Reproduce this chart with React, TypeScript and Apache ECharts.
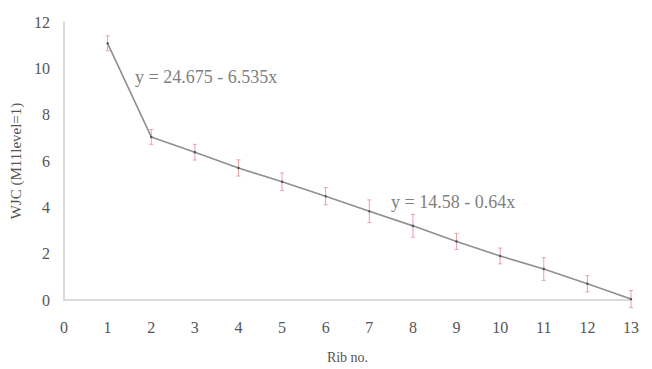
import React, { useEffect, useRef } from "react";
import * as echarts from "echarts";

const ribs = [1, 2, 3, 4, 5, 6, 7, 8, 9, 10, 11, 12, 13];
const wjc = [11.08, 7.04, 6.38, 5.7, 5.1, 4.48, 3.83, 3.2, 2.53, 1.9, 1.34, 0.7, 0.04];
const errs = [0.32, 0.32, 0.34, 0.35, 0.38, 0.37, 0.49, 0.49, 0.35, 0.34, 0.49, 0.35, 0.37];
const eq1 = "y = 24.675 - 6.535x";
const eq2 = "y = 14.58 - 0.64x";

const FONT = "'Liberation Serif', 'DejaVu Serif', serif";

export default function App() {
  const ref = useRef<HTMLDivElement>(null);
  useEffect(() => {
    const chart = echarts.init(ref.current!, null, { renderer: "svg" });
    const lineData = ribs.map((r, i) => [r, wjc[i]]);
    const errData = ribs.map((r, i) => [r, wjc[i] - errs[i], wjc[i] + errs[i]]);
    chart.setOption({
      animation: false,
      backgroundColor: "#ffffff",
      grid: { left: 64, right: 21, top: 22, bottom: 64, containLabel: false },
      xAxis: {
        type: "value",
        min: 0,
        max: 13,
        interval: 1,
        name: "Rib no.",
        nameLocation: "middle",
        nameGap: 50,
        nameTextStyle: { fontFamily: FONT, fontSize: 14, color: "#555" },
        axisLine: { show: true, lineStyle: { color: "#cfcfcf", width: 1.5 } },
        axisTick: { show: false },
        splitLine: { show: false },
        axisLabel: { fontFamily: FONT, fontSize: 16, color: "#555", margin: 19 },
      },
      yAxis: {
        type: "value",
        min: 0,
        max: 12,
        interval: 2,
        name: "WJC (M11level=1)",
        nameLocation: "middle",
        nameGap: 38,
        nameTextStyle: { fontFamily: FONT, fontSize: 15, color: "#555" },
        axisLine: { show: true, lineStyle: { color: "#cfcfcf", width: 1.5 } },
        axisTick: { show: false },
        splitLine: { show: false },
        axisLabel: { fontFamily: FONT, fontSize: 16, color: "#555", margin: 14 },
      },
      series: [
        {
          type: "custom",
          data: errData,
          z: 1,
          renderItem: (params: any, api: any) => {
            const x = api.value(0);
            const lo = api.coord([x, api.value(1)]);
            const hi = api.coord([x, api.value(2)]);
            const cap = 2;
            const style = { stroke: "#e8a0a8", lineWidth: 1 };
            return {
              type: "group",
              children: [
                { type: "line", shape: { x1: lo[0], y1: lo[1], x2: hi[0], y2: hi[1] }, style },
                { type: "line", shape: { x1: lo[0] - cap, y1: lo[1], x2: lo[0] + cap, y2: lo[1] }, style },
                { type: "line", shape: { x1: hi[0] - cap, y1: hi[1], x2: hi[0] + cap, y2: hi[1] }, style },
              ],
            };
          },
        },
        {
          type: "line",
          data: lineData,
          z: 2,
          symbol: "circle",
          symbolSize: 2.5,
          itemStyle: { color: "#555" },
          lineStyle: { color: "#8f8f8f", width: 1.6 },
        },
      ],
      graphic: [
        {
          type: "text",
          left: 135,
          top: 68,
          style: { text: eq1, font: `18px ${FONT}`, fill: "#7f7f7f" },
        },
        {
          type: "text",
          left: 391,
          top: 193,
          style: { text: eq2, font: `18px ${FONT}`, fill: "#7f7f7f" },
        },
      ],
    });
    return () => chart.dispose();
  }, []);
  return (
    <div
      ref={ref}
      style={{ position: "fixed", left: 0, top: 0, width: 652, height: 369 }}
    />
  );
}
